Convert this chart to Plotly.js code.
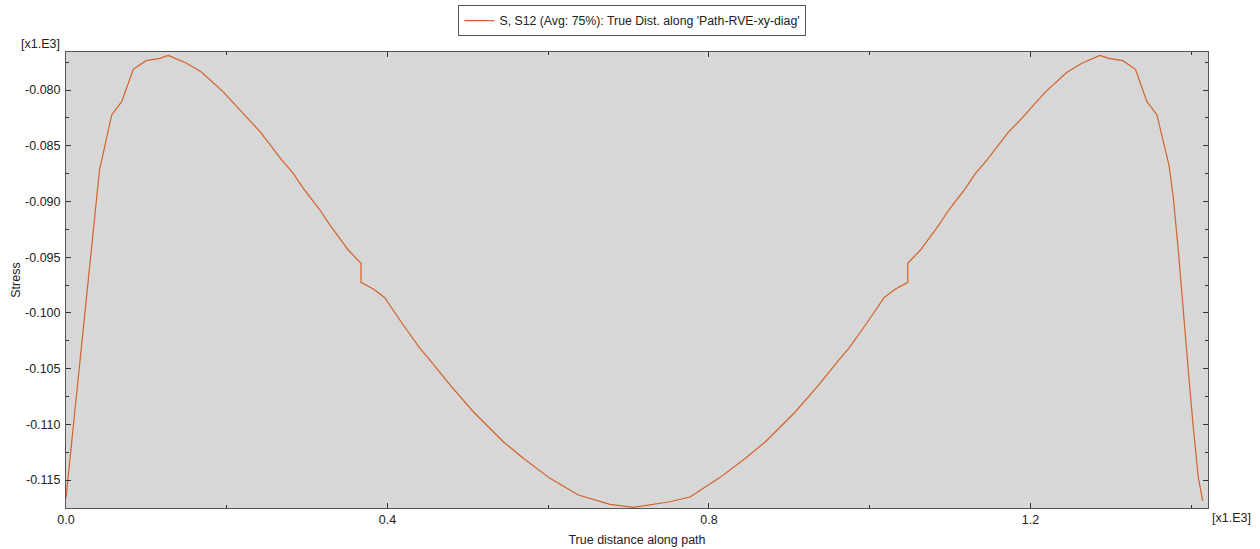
<!DOCTYPE html>
<html>
<head>
<meta charset="utf-8">
<script src="https://cdn.plot.ly/plotly-3.0.1.min.js"></script>
<style>html,body{margin:0;padding:0;background:#fff;}#chart{width:1260px;height:549px;}</style>
</head>
<body>
<div id="chart"></div>
<script>
// True distance along path (shown in x1.E3)
const distance = [
  0.0000, 0.00995, 0.02078, 0.0311, 0.04168, 0.05686, 0.0693, 0.08373, 0.09953, 0.11695,
  0.12728, 0.15017, 0.16883, 0.19533, 0.22893, 0.24137, 0.26837, 0.2828, 0.29524, 0.31602,
  0.32846, 0.35123, 0.36703, 0.36703, 0.38233, 0.39602, 0.41966, 0.44044, 0.45288, 0.47776,
  0.50675, 0.54407, 0.56896, 0.60218, 0.63739, 0.67683, 0.70582, 0.75148, 0.77636, 0.81219,
  0.84541, 0.87029, 0.90762, 0.93661, 0.96149, 0.97393, 0.99471, 1.01835, 1.03204, 1.04734,
  1.04734, 1.06314, 1.08591, 1.09835, 1.11913, 1.13157, 1.14600, 1.17300, 1.18544, 1.21904,
  1.24541, 1.26407, 1.28647, 1.29742, 1.31484, 1.33064, 1.34495, 1.35739, 1.37232, 1.37767,
  1.38389, 1.39011, 1.39633, 1.40255, 1.40877, 1.41424
];
// S, S12 stress (shown in x1.E3)
const stressS12 = [
  -0.11661, -0.10961, -0.10217, -0.09499, -0.08718, -0.08224, -0.08105, -0.07814, -0.07737, -0.07716,
  -0.07689, -0.07760, -0.07841, -0.08015, -0.08284, -0.08374, -0.08628, -0.08748, -0.08882, -0.09077,
  -0.09212, -0.09436, -0.09555, -0.09726, -0.09786, -0.09860, -0.10109, -0.10318, -0.10423, -0.10647,
  -0.10887, -0.11156, -0.11305, -0.11485, -0.11634, -0.11718, -0.11745, -0.11695, -0.11652, -0.11485,
  -0.11305, -0.11156, -0.10887, -0.10647, -0.10423, -0.10318, -0.10109, -0.09860, -0.09786, -0.09726,
  -0.09555, -0.09436, -0.09212, -0.09077, -0.08882, -0.08748, -0.08628, -0.08374, -0.08284, -0.08015,
  -0.07841, -0.07760, -0.07689, -0.07716, -0.07737, -0.07814, -0.08105, -0.08224, -0.08673, -0.08960,
  -0.09436, -0.10001, -0.10513, -0.11024, -0.11473, -0.11688
];
const xTickVals = [0.0, 0.4, 0.8, 1.2];
const xTickText = ["0.0", "0.4", "0.8", "1.2"];
const yTickVals = [-0.080, -0.085, -0.090, -0.095, -0.100, -0.105, -0.110, -0.115];
const yTickText = ["-0.080", "-0.085", "-0.090", "-0.095", "-0.100", "-0.105", "-0.110", "-0.115"];
const seriesName = "S, S12 (Avg: 75%): True Dist. along 'Path-RVE-xy-diag'";

const fam = "'Liberation Sans', Arial, sans-serif";
const txt = (s) => ({family: fam, size: s, color: "#222"});

const trace = {
  x: distance, y: stressS12, type: "scatter", mode: "lines", name: seriesName,
  line: {color: "#d2622a", width: 1.2}
};

const layout = {
  width: 1260, height: 549,
  margin: {l: 66, r: 52, t: 52, b: 41, autoexpand: false},
  paper_bgcolor: "#ffffff", plot_bgcolor: "#d7d7d7",
  font: txt(12),
  showlegend: true,
  legend: {
    x: 0.496, xanchor: "center", y: 1.103, yanchor: "top",
    bgcolor: "#ffffff", bordercolor: "#555", borderwidth: 1,
    font: txt(12.3)
  },
  xaxis: {
    range: [0, 1.4209], showgrid: false, zeroline: false, automargin: false,
    showline: true, linecolor: "#555", linewidth: 1, mirror: "allticks",
    ticks: "inside", ticklen: 5, tickcolor: "#333", tickwidth: 1,
    tickmode: "array", tickvals: xTickVals, ticktext: xTickText,
    minor: {ticks: "inside", ticklen: 3, dtick: 0.2, tick0: 0, tickcolor: "#333"},
    tickfont: txt(12.5),
    title: {text: "True distance along path", standoff: 9, font: txt(12.5)}
  },
  yaxis: {
    range: [-0.11751, -0.07659], showgrid: false, zeroline: false, automargin: false,
    showline: true, linecolor: "#555", linewidth: 1, mirror: "allticks",
    ticks: "inside", ticklen: 5, tickcolor: "#333", tickwidth: 1,
    tickmode: "array", tickvals: yTickVals, ticktext: yTickText,
    minor: {ticks: "inside", ticklen: 3, dtick: 0.0025, tick0: -0.08, tickcolor: "#333"},
    tickfont: txt(12.5), ticklabelstandoff: 2,
    title: {text: "Stress", standoff: 1, font: txt(12.5)}
  },
  annotations: [
    {text: "[x1.E3]", xref: "paper", yref: "paper", x: -0.0035, y: 1.0175,
     xanchor: "right", yanchor: "middle", showarrow: false, font: txt(12.5)},
    {text: "[x1.E3]", xref: "paper", yref: "paper", x: 1.0015, y: -0.0219,
     xanchor: "left", yanchor: "middle", showarrow: false, font: txt(12.5)}
  ]
};

Plotly.newPlot("chart", [trace], layout, {displayModeBar: false, staticPlot: true});
</script>
</body>
</html>
